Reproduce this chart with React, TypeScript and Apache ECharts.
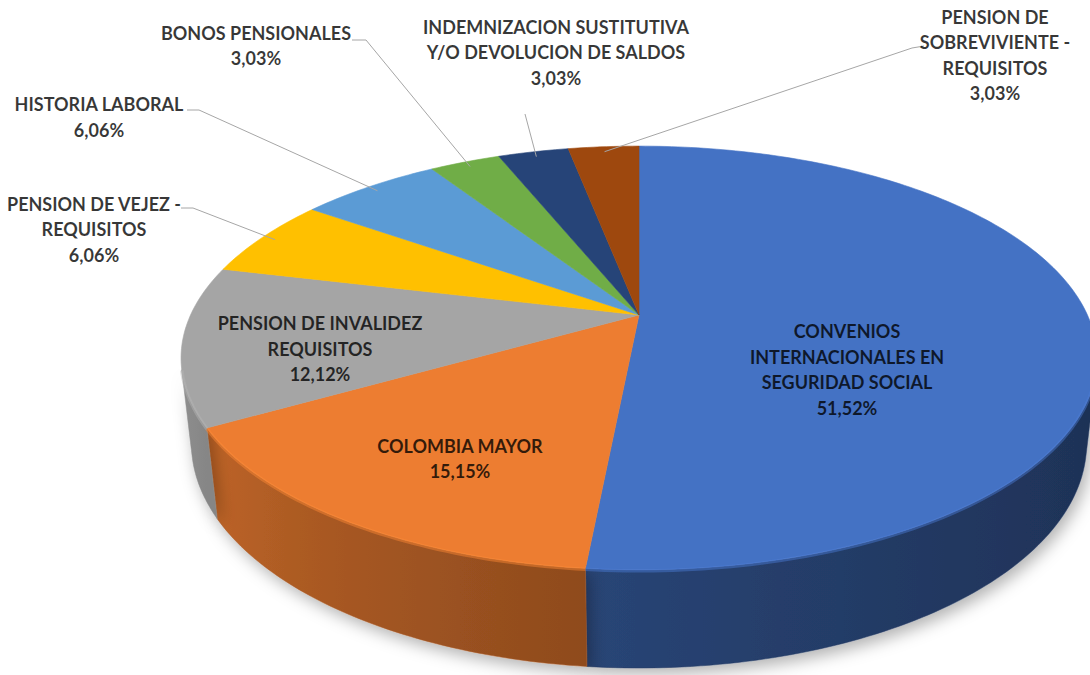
import React, { useEffect, useRef } from "react";
import * as echarts from "echarts";

// ---- data ----
const categories = [
  "CONVENIOS\nINTERNACIONALES EN\nSEGURIDAD SOCIAL",
  "COLOMBIA MAYOR",
  "PENSION DE INVALIDEZ\nREQUISITOS",
  "PENSION DE VEJEZ -\nREQUISITOS",
  "HISTORIA LABORAL",
  "BONOS PENSIONALES",
  "INDEMNIZACION SUSTITUTIVA\nY/O DEVOLUCION DE SALDOS",
  "PENSION DE\nSOBREVIVIENTE -\nREQUISITOS",
];
const values = [51.52, 15.15, 12.12, 6.06, 6.06, 3.03, 3.03, 3.03];
const colors = ["#4472C4", "#ED7D31", "#A5A5A5", "#FFC000", "#5B9BD5", "#70AD47", "#264478", "#9E480E"];

// ---- layout (label placement, leader line start points) ----
const labelLayout: { x: number; y: number; line: number[][] | null }[] = [
  { x: 847, y: 369.5, line: null },
  { x: 460, y: 458.5, line: null },
  { x: 320, y: 348.5, line: null },
  { x: 94, y: 229, line: [[181, 208], [193, 208]] },
  { x: 99, y: 117, line: [[187, 110], [199, 110]] },
  { x: 256, y: 45.5, line: [[352, 40], [366, 40]] },
  { x: 556, y: 52, line: [[525, 114]] },
  { x: 995, y: 55, line: [[924, 46], [912, 48]] },
];

// ---- 3D projection parameters ----
const CX = 639, CY = 315, F = 1970, D = 4.393, SA = 0.453, CA = 0.891, H = 0.2155;

function proj(theta: number, r: number, h: number): number[] {
  const u = r * Math.sin(theta);
  const v = r * Math.cos(theta);
  const sy = v * SA + h * CA;
  const dep = D + v * CA - h * SA;
  return [CX + (F * u) / dep, CY - (F * sy) / dep];
}

function shade(hex: string, f: number): string {
  const n = parseInt(hex.slice(1), 16);
  const r = Math.min(255, Math.round(((n >> 16) & 255) * f));
  const g = Math.min(255, Math.round(((n >> 8) & 255) * f));
  const b = Math.min(255, Math.round((n & 255) * f));
  return `rgb(${r},${g},${b})`;
}

const VIS0 = Math.acos(-1 / (D * CA));
const VIS1 = 2 * Math.PI - VIS0;

function light(theta: number): number {
  const t = Math.max(0, Math.min(1, (theta - VIS0) / (VIS1 - VIS0)));
  return 0.44 + 0.44 * Math.pow(t, 1.6);
}

function fmt(v: number): string {
  return v.toFixed(2).replace(".", ",") + "%";
}

const total = values.reduce((a, b) => a + b, 0);
const seriesData: number[][] = [];
{
  let acc = 0;
  values.forEach((v, i) => {
    seriesData.push([i, v, acc / total, (acc + v) / total]);
    acc += v;
  });
}

function arcPoints(a0: number, a1: number, h: number): number[][] {
  const pts: number[][] = [];
  const n = Math.max(2, Math.ceil(((a1 - a0) * 180) / Math.PI));
  for (let k = 0; k <= n; k++) {
    const a = a0 + ((a1 - a0) * k) / n;
    pts.push(proj(a, 1, h));
  }
  return pts;
}

function renderItem(params: any, api: any) {
  const i = params.dataIndex;
  const a0 = api.value(2) * Math.PI * 2;
  const a1 = api.value(3) * Math.PI * 2;
  const base = colors[i];
  const children: any[] = [];

  // wall (visible front part)
  const w0 = Math.max(a0, VIS0);
  const w1 = Math.min(a1, VIS1);
  if (w1 > w0) {
    const top = arcPoints(w0, w1, 0);
    const bot = arcPoints(w0, w1, -H).reverse();
    const pStart = top[0];
    const pEnd = top[top.length - 1];
    const stops: any[] = [];
    const ns = 6;
    for (let k = 0; k <= ns; k++) {
      const a = w0 + ((w1 - w0) * k) / ns;
      const p = proj(a, 1, 0);
      const off = (p[0] - pStart[0]) / ((pEnd[0] - pStart[0]) || 1);
      stops.push({ offset: Math.max(0, Math.min(1, off)), color: shade(base, light(a)) });
    }
    stops.sort((s1, s2) => s1.offset - s2.offset);
    children.push({
      type: "polygon",
      z2: 1,
      shape: { points: top.concat(bot) },
      style: {
        fill: new echarts.graphic.LinearGradient(pStart[0], 0, pEnd[0], 0, stops, true),
        stroke: shade(base, light((w0 + w1) / 2)),
        lineWidth: 0.5,
        shadowBlur: 16,
        shadowColor: "rgba(0,0,0,0.3)",
        shadowOffsetX: 4,
        shadowOffsetY: 6,
      },
    });
    children.push({
      type: "polyline",
      z2: 12,
      shape: { points: arcPoints(w0, w1, -0.002) },
      style: { stroke: shade(base, 1.1), lineWidth: 3.5, fill: null, opacity: 0.45 },
    });
  }

  // top face
  const topPts = [proj(0, 0, 0)].concat(arcPoints(a0, a1, 0));
  children.push({
    type: "polygon",
    z2: 10,
    shape: { points: topPts },
    style: { fill: base, stroke: base, lineWidth: 0.6 },
  });

  // leader line
  const lay = labelLayout[i];
  if (lay.line) {
    const mid = (a0 + a1) / 2;
    const end = proj(mid, 0.965, 0);
    children.push({
      type: "polyline",
      z2: 20,
      shape: { points: lay.line.concat([end]) },
      style: { stroke: "#A6A6A6", lineWidth: 1, fill: null },
    });
  }

  // label
  children.push({
    type: "text",
    z2: 30,
    x: lay.x,
    y: lay.y,
    style: {
      text: categories[i] + "\n" + fmt(api.value(1)),
      fill: "rgba(0,0,0,0.78)",
      fontFamily: "Lato",
      fontWeight: "bold",
      fontSize: 18,
      lineHeight: 25.5,
      align: "center",
      verticalAlign: "middle",
    },
  });

  return { type: "group", children };
}

export default function App() {
  const ref = useRef<HTMLDivElement>(null);
  useEffect(() => {
    const chart = echarts.init(ref.current!, null, { renderer: "svg" });
    chart.setOption({
      animation: false,
      backgroundColor: "#ffffff",
      series: [
        {
          type: "custom",
          coordinateSystem: "none",
          renderItem,
          data: seriesData,
          silent: true,
        },
      ],
    });
    return () => chart.dispose();
  }, []);
  return (
    <div
      ref={ref}
      style={{ position: "fixed", left: 0, top: 0, width: 1090, height: 675, background: "#fff" }}
    />
  );
}
